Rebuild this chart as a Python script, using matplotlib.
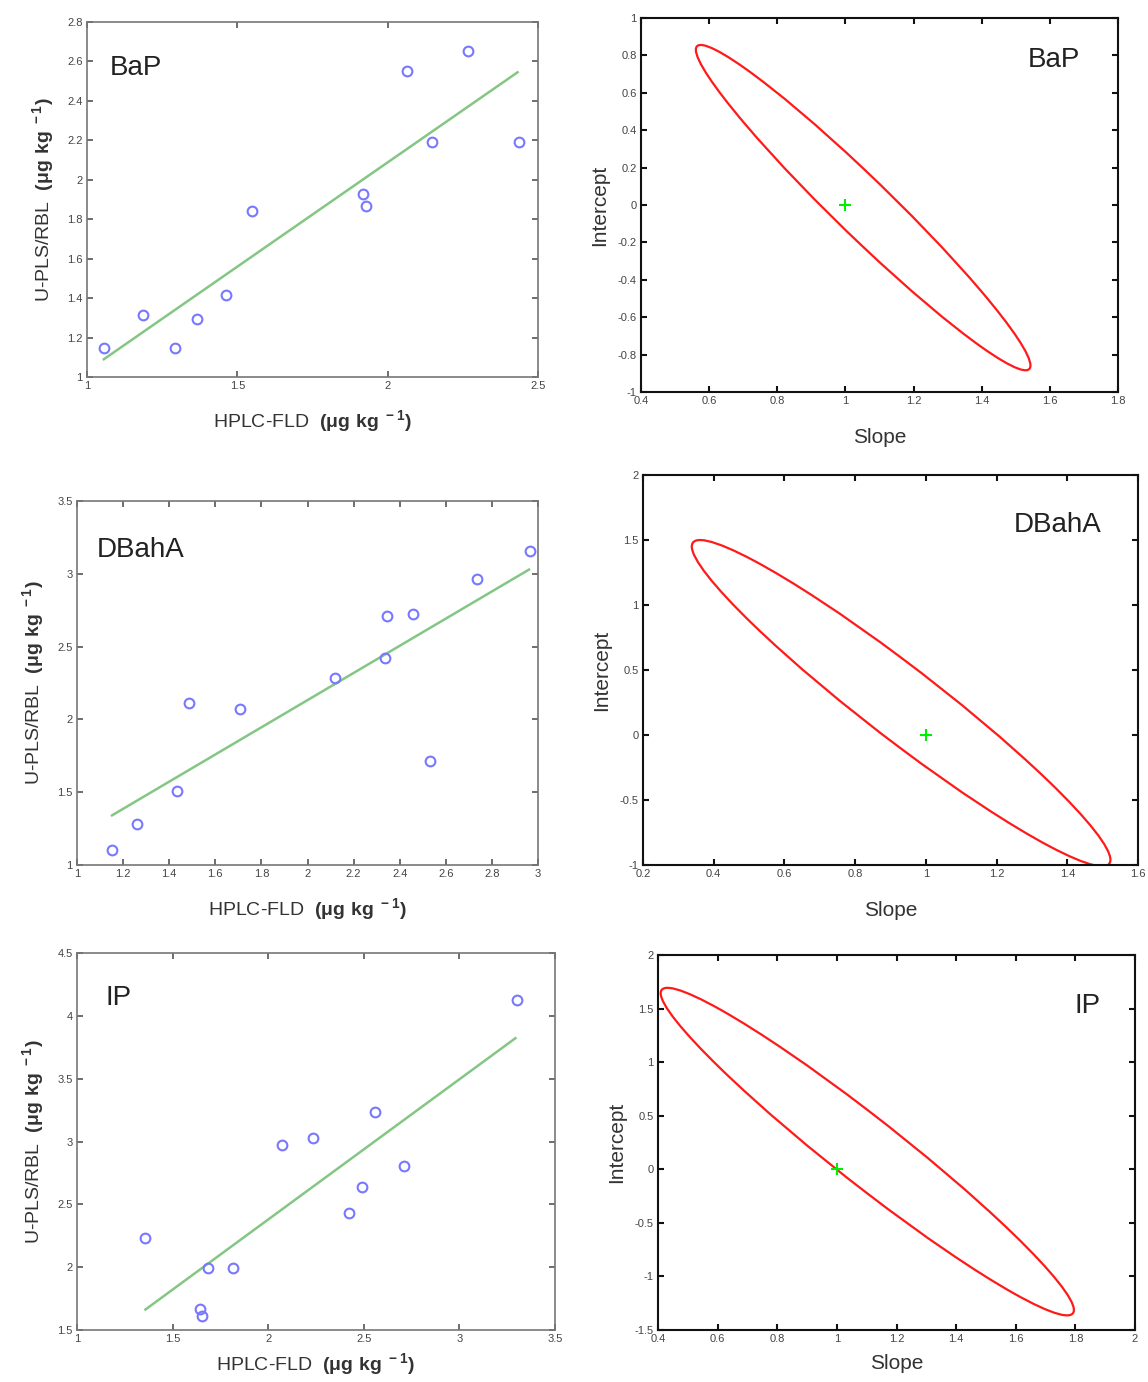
import matplotlib
matplotlib.use('Agg')
import matplotlib.pyplot as plt
from matplotlib.patches import Ellipse
from matplotlib.transforms import Affine2D

plt.rcParams['font.family'] = ['Liberation Sans', 'DejaVu Sans']
plt.rcParams['mathtext.fontset'] = 'custom'
plt.rcParams['mathtext.rm'] = 'Liberation Sans'
plt.rcParams['mathtext.bf'] = 'Liberation Sans:bold'

# --- data ---
names = ['BaP', 'DBahA', 'IP']

# HPLC-FLD vs U-PLS/RBL
bap_x = [1.056, 1.185, 1.294, 1.367, 1.463, 1.549, 1.918, 1.929, 2.065, 2.148, 2.268, 2.437]
bap_y = [1.145, 1.315, 1.145, 1.295, 1.416, 1.840, 1.928, 1.869, 2.550, 2.190, 2.652, 2.190]
bap_fit_x = [1.056, 2.432]
bap_fit_y = [1.090, 2.545]

dba_x = [1.152, 1.262, 1.433, 1.486, 1.708, 2.118, 2.335, 2.343, 2.457, 2.531, 2.736, 2.967]
dba_y = [1.103, 1.281, 1.508, 2.112, 2.073, 2.283, 2.423, 2.709, 2.722, 1.711, 2.962, 3.159]
dba_fit_x = [1.152, 2.961]
dba_fit_y = [1.341, 3.029]

ip_x = [1.358, 1.641, 1.652, 1.685, 1.816, 2.072, 2.235, 2.424, 2.493, 2.561, 2.709, 3.301]
ip_y = [2.235, 1.666, 1.612, 1.994, 1.994, 2.969, 3.031, 2.435, 2.638, 3.237, 2.803, 4.124]
ip_fit_x = [1.358, 3.293]
ip_fit_y = [1.663, 3.822]

# joint confidence ellipses: centre, conjugate semi-diameters (slope, intercept)
ell_center = [(1.052, -0.014), (0.930, 0.245), (1.102, 0.165)]
ell_u = [(0.491, -0.844), (0.592, -1.205), (0.693, -1.478)]
ell_v = [(0.0, 0.210), (0.0, 0.350), (0.0, 0.390)]
ideal = (1.0, 0.0)

# axis ranges and ticks
sc_xlim = [(1, 2.5), (1, 3), (1, 3.5)]
sc_ylim = [(1, 2.8), (1, 3.5), (1.5, 4.5)]
sc_xticks = [[1, 1.5, 2, 2.5], [1, 1.2, 1.4, 1.6, 1.8, 2, 2.2, 2.4, 2.6, 2.8, 3], [1, 1.5, 2, 2.5, 3, 3.5]]
sc_yticks = [[1, 1.2, 1.4, 1.6, 1.8, 2, 2.2, 2.4, 2.6, 2.8], [1, 1.5, 2, 2.5, 3, 3.5], [1.5, 2, 2.5, 3, 3.5, 4, 4.5]]
el_xlim = [(0.4, 1.8), (0.2, 1.6), (0.4, 2.0)]
el_ylim = [(-1, 1), (-1, 2), (-1.5, 2)]
el_xticks = [[0.4, 0.6, 0.8, 1, 1.2, 1.4, 1.6, 1.8], [0.2, 0.4, 0.6, 0.8, 1, 1.2, 1.4, 1.6],
             [0.4, 0.6, 0.8, 1, 1.2, 1.4, 1.6, 1.8, 2]]
el_yticks = [[-1, -0.8, -0.6, -0.4, -0.2, 0, 0.2, 0.4, 0.6, 0.8, 1], [-1, -0.5, 0, 0.5, 1, 1.5, 2],
             [-1.5, -1, -0.5, 0, 0.5, 1, 1.5, 2]]

scatter_x = [bap_x, dba_x, ip_x]
scatter_y = [bap_y, dba_y, ip_y]
fit_x = [bap_fit_x, dba_fit_x, ip_fit_x]
fit_y = [bap_fit_y, dba_fit_y, ip_fit_y]

W, H = 1148, 1382
fig = plt.figure(figsize=(W / 100, H / 100), dpi=100)


def px_axes(x0, x1, y0, y1):
    # pixel box -> figure fraction
    return fig.add_axes([x0 / W, 1 - y1 / H, (x1 - x0) / W, (y1 - y0) / H])


sc_boxes = [(87, 538, 22, 377), (77, 538, 501, 865), (77, 555, 953, 1330)]
el_boxes = [(641, 1118, 18, 392), (643, 1138, 475, 865), (658, 1135, 955, 1330)]
sc_label_pos = [(0.051, 0.87), (0.043, 0.865), (0.059, 0.88)]
el_label_pos = [(0.92, 0.888), (0.927, 0.872), (0.927, 0.864)]
sc_xpad = [12, 12, 5]   # 最下段は画像の下端に収める
el_xpad = [16, 16, 7]

unit = r'$\mathbf{(\mu g\ kg^{\ -1})}$'


def fmt(v):
    return f'{v:g}'


for i in range(3):
    # --- 左: 散布図 + 回帰直線 ---
    ax = px_axes(*sc_boxes[i])
    ax.plot(fit_x[i], fit_y[i], color='#84c684', linewidth=1.8)
    ax.plot(scatter_x[i], scatter_y[i], 'o', markerfacecolor='none', markeredgecolor='#7878ff',
            markersize=7, markeredgewidth=1.5)
    ax.set_xlim(*sc_xlim[i])
    ax.set_ylim(*sc_ylim[i])
    ax.set_xticks(sc_xticks[i])
    ax.set_yticks(sc_yticks[i])
    ax.set_xticklabels([fmt(t) for t in sc_xticks[i]])
    ax.set_yticklabels([fmt(t) for t in sc_yticks[i]])
    ax.tick_params(direction='in', top=True, right=True, length=4, width=1.2,
                   labelsize=8, labelcolor='#444444', color='#555555', pad=3)
    for s in ax.spines.values():
        s.set_color('#777777')
        s.set_linewidth(1.2)
    ax.set_xlabel('HPLC-FLD  ' + unit, fontsize=14, color='#333333', labelpad=sc_xpad[i])
    ax.set_ylabel('U-PLS/RBL  ' + unit, fontsize=14, color='#333333', labelpad=8)
    ax.text(*sc_label_pos[i], names[i], transform=ax.transAxes, fontsize=20,
            ha='left', va='center', color='#222222')

    # --- 右: 楕円信頼領域 ---
    ax2 = px_axes(*el_boxes[i])
    cx, cy = ell_center[i]
    ux, uy = ell_u[i]
    vx, vy = ell_v[i]
    tr = Affine2D().from_values(ux, uy, vx, vy, cx, cy) + ax2.transData
    ax2.add_patch(Ellipse((0, 0), 2, 2, transform=tr, fill=False, edgecolor='#ff1a1a', linewidth=1.6))
    ax2.plot([ideal[0]], [ideal[1]], '+', color='#00ee00', markersize=8, markeredgewidth=1.5)
    ax2.set_xlim(*el_xlim[i])
    ax2.set_ylim(*el_ylim[i])
    ax2.set_xticks(el_xticks[i])
    ax2.set_yticks(el_yticks[i])
    ax2.set_xticklabels([fmt(t) for t in el_xticks[i]])
    ax2.set_yticklabels([fmt(t) for t in el_yticks[i]])
    ax2.tick_params(direction='in', top=True, right=True, length=4, width=1.5,
                    labelsize=8, labelcolor='#444444', color='#111111', pad=3)
    for s in ax2.spines.values():
        s.set_color('#111111')
        s.set_linewidth(1.5)
    ax2.set_xlabel('Slope', fontsize=15, color='#333333', labelpad=el_xpad[i])
    ax2.set_ylabel('Intercept', fontsize=15, color='#333333', labelpad=6)
    ax2.text(*el_label_pos[i], names[i], transform=ax2.transAxes, fontsize=20,
             ha='right', va='center', color='#222222')

fig.savefig('out.png', dpi=100)
